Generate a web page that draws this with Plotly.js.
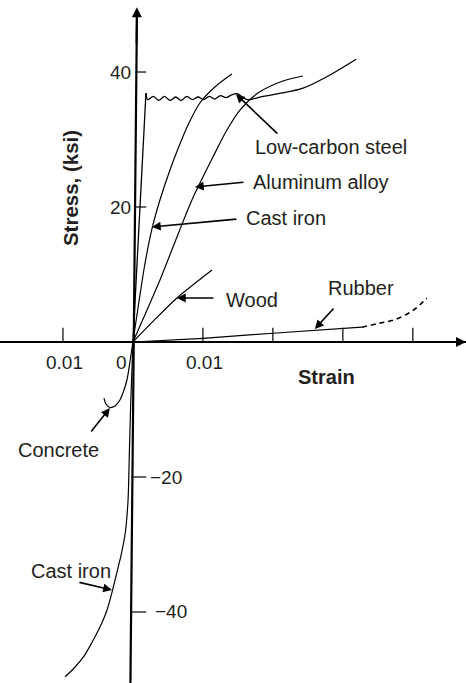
<!DOCTYPE html>
<html><head><meta charset="utf-8">
<script src="https://cdn.plot.ly/plotly-3.0.1.min.js"></script>
<style>html,body{margin:0;padding:0;background:#fff}#chart{width:466px;height:683px}</style>
</head><body><div id="chart"></div>
<script>
// ---- data (strain, stress in ksi) ----
const steelElasticStrain = [0, 0.00186];
const steelElasticStress = [0, 36.9];
const steelStrain = [0.00186, 0.0021, 0.0029, 0.0037, 0.0045, 0.0053, 0.0061, 0.0069, 0.0077, 0.0085, 0.0093, 0.0101, 0.0109, 0.0117, 0.0125, 0.0133, 0.0141, 0.0149, 0.0156, 0.0164, 0.0186, 0.0214, 0.0243, 0.0277, 0.0319];
const steelStress = [36.9, 35.9, 36.4, 35.8, 36.4, 35.8, 36.3, 35.8, 36.4, 35.9, 36.3, 35.9, 36.4, 36.0, 36.5, 36.2, 36.6, 36.8, 36.3, 35.9, 36.4, 36.9, 37.6, 39.3, 41.9];
const aluStrain = [0, 0.00386, 0.00629, 0.00843, 0.01143, 0.01343, 0.01529, 0.01786, 0.02143, 0.02429];
const aluStress = [0, 9.19, 15.56, 21.04, 27.41, 31.41, 34.37, 36.89, 38.67, 39.41];
const castTStrain = [0, 0.00171, 0.00271, 0.00386, 0.00529, 0.00671, 0.00814, 0.00957, 0.01171, 0.01414];
const castTStress = [0, 11.56, 16.74, 21.04, 25.48, 29.33, 32.74, 35.41, 37.78, 39.70];
const woodStrain = [0, 0.003, 0.00629, 0.0113];
const woodStress = [0, 3.2, 6.52, 10.67];
const rubberStrain = [0, 0.01, 0.02, 0.0327];
const rubberStress = [0, 0.55, 1.3, 2.2];
const rubberExtStrain = [0.0327, 0.0353, 0.0374, 0.0396, 0.041, 0.042];
const rubberExtStress = [2.2, 2.8, 3.3, 4.4, 5.5, 6.5];
const concreteStrain = [0, -0.00043, -0.00086, -0.00143, -0.00186, -0.00257, -0.00329, -0.00386, -0.00414];
const concreteStress = [0, -2.96, -5.63, -7.56, -8.59, -9.48, -9.70, -9.19, -8.30];
const castCStrain = [0, -0.0003, -0.0005, -0.0007, -0.0011, -0.0017, -0.0021, -0.0029, -0.0037, -0.0047, -0.0059, -0.0071, -0.0084, -0.0097];
const castCStress = [0, -8.6, -16, -23.4, -28.3, -31.6, -33.3, -36.7, -39.7, -42.2, -44.6, -46.7, -48.3, -49.6];

const xTickVals = [-0.01, 0.01, 0.02, 0.03, 0.04];
const xLabelVals = [-0.01, 0, 0.01];
const xLabelText = ['0.01', '0', '0.01'];
const yTickVals = [40, 20, -20, -40];
const yTickText = ['40', '20', '\u221220', '\u221240'];

const curveLabels = ['Low-carbon steel', 'Aluminum alloy', 'Cast iron', 'Wood', 'Rubber', 'Concrete', 'Cast iron'];

// ---- drawing ----
const TXT = '#231f20';
const FONT = 'Liberation Sans, Arial, sans-serif';
function line(x, y, opt) {
  return Object.assign({type: 'scatter', mode: 'lines', x: x, y: y, hoverinfo: 'skip',
    line: {color: '#000', width: 1.2, shape: 'spline', smoothing: 0.8}}, opt || {});
}
const traces = [
  line(steelElasticStrain, steelElasticStress, {line: {color: '#000', width: 1.3}}),
  line(steelStrain, steelStress, {line: {color: '#000', width: 1.3, shape: 'spline', smoothing: 0.9}}),
  line(aluStrain, aluStress),
  line(castTStrain, castTStress),
  line(woodStrain, woodStress),
  line(rubberStrain, rubberStress, {line: {color: '#000', width: 1.2}}),
  line(rubberExtStrain, rubberExtStress, {line: {color: '#000', width: 1.6, dash: '5px,4px', shape: 'spline'}}),
  line(concreteStrain, concreteStress),
  line(castCStrain, castCStress)
];

const XR = [-0.019, 0.0476], YR = [-50.52, 50.67];
const shapes = [
  {type: 'line', xref: 'x', yref: 'y', x0: XR[0], x1: XR[1], y0: 0, y1: 0, line: {color: '#000', width: 2.2}},
  {type: 'line', xref: 'x', yref: 'y', x0: -0.00036, x1: 0.00057, y0: YR[0], y1: 48.4, line: {color: '#000', width: 2.2}}
];
xTickVals.forEach(v => shapes.push({type: 'line', xref: 'x', yref: 'y', x0: v, x1: v, y0: 0, y1: 2.1, line: {color: '#000', width: 1.2}}));
yTickVals.forEach(v => shapes.push({type: 'line', xref: 'x', yref: 'y', x0: 0.0004 * v / 40, x1: 0.0019, y0: v, y1: v, line: {color: '#000', width: 1.2}}));

const ann = [];
const f = {family: FONT, size: 19, color: TXT};
xLabelVals.forEach((v, i) => ann.push({x: v, y: 0, xref: 'x', yref: 'y', text: xLabelText[i], showarrow: false,
  xanchor: 'center', yanchor: 'middle', yshift: -20, xshift: v === 0 ? -11 : 2, font: f}));
yTickVals.forEach((v, i) => ann.push({x: 0, y: v, xref: 'x', yref: 'y', text: yTickText[i], showarrow: false,
  xanchor: v > 0 ? 'right' : 'left', yanchor: 'middle', xshift: v > 0 ? 0 : (v < -30 ? 20 : 15), font: f}));

const lf = {family: FONT, size: 20, color: TXT};
const labelPos = [[0.0172, 28.9], [0.0169, 23.7], [0.0159, 18.4], [0.0130, 6.2], [0.0276, 8.0], [-0.0167, -16.0], [-0.0148, -33.9]];
curveLabels.forEach((t, i) => ann.push({x: labelPos[i][0], y: labelPos[i][1], xref: 'x', yref: 'y', text: t, showarrow: false,
  xanchor: 'left', yanchor: 'middle', font: lf}));

const arrows = [
  [0.01471, 36.74, 0.02086, 30.67],
  [0.00886, 22.96, 0.0160, 23.70],
  [0.00271, 17.04, 0.0150, 18.22],
  [0.00629, 6.52, 0.01171, 6.52],
  [0.0260, 1.93, 0.02886, 5.19],
  [-0.00329, -9.78, -0.00614, -13.48],
  [-0.0030, -36.74, -0.00786, -35.56]
];
arrows.forEach(a => ann.push({x: a[0], y: a[1], ax: a[2], ay: a[3], xref: 'x', yref: 'y', axref: 'x', ayref: 'y',
  text: '', showarrow: true, arrowhead: 2, arrowsize: 1.1, arrowwidth: 1.6, arrowcolor: '#000', standoff: 0, startstandoff: 0}));
// axis arrowheads
ann.push({x: 0.00057, y: 49.6, ax: 0.00052, ay: 44, xref: 'x', yref: 'y', axref: 'x', ayref: 'y', text: '', showarrow: true,
  arrowhead: 2, arrowsize: 1, arrowwidth: 2, arrowcolor: '#000'});
ann.push({x: 0.0476, y: 0, ax: 0.0460, ay: 0, xref: 'x', yref: 'y', axref: 'x', ayref: 'y', text: '', showarrow: true,
  arrowhead: 2, arrowsize: 1, arrowwidth: 2, arrowcolor: '#000'});
// axis titles
ann.push({x: 0.0277, y: -5.2, xref: 'x', yref: 'y', text: '<b>Strain</b>', showarrow: false, xanchor: 'center', yanchor: 'middle',
  font: {family: FONT, size: 20, color: TXT}});
ann.push({x: -0.0090, y: 22.8, xref: 'x', yref: 'y', text: '<b>Stress, (ksi)</b>', showarrow: false, textangle: -90,
  xanchor: 'center', yanchor: 'middle', font: {family: FONT, size: 20.5, color: TXT}});

const layout = {
  width: 466, height: 683, margin: {l: 0, r: 0, t: 0, b: 0},
  paper_bgcolor: '#fff', plot_bgcolor: '#fff', showlegend: false,
  xaxis: {range: XR, visible: false, fixedrange: true},
  yaxis: {range: YR, visible: false, fixedrange: true},
  shapes: shapes, annotations: ann
};
Plotly.newPlot('chart', traces, layout, {staticPlot: true, displayModeBar: false});
</script></body></html>
